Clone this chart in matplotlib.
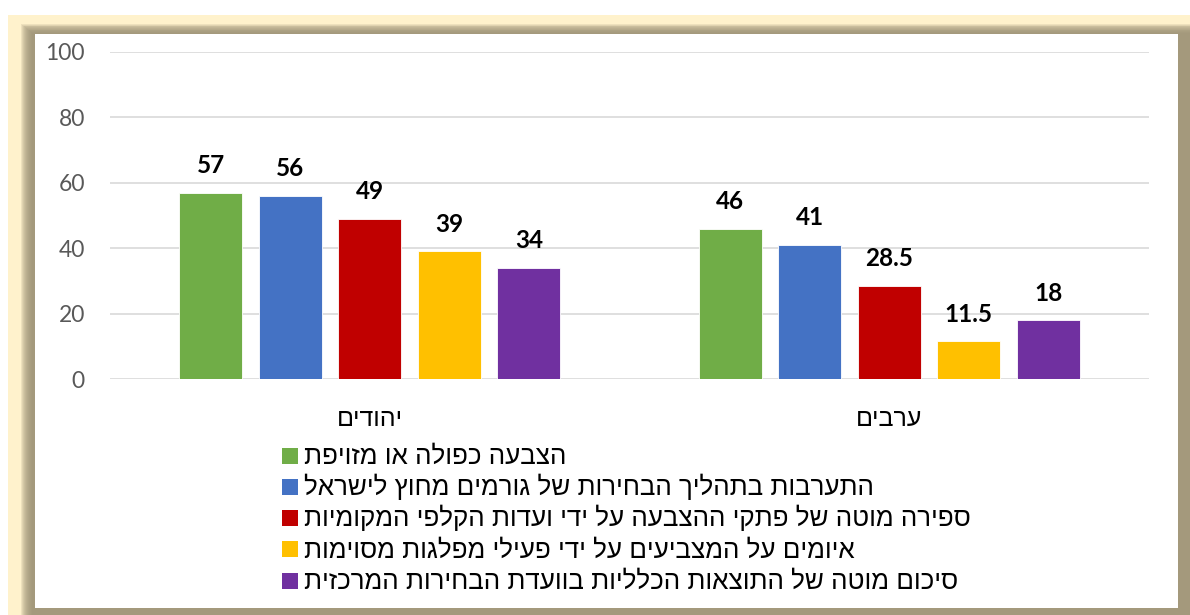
import matplotlib.pyplot as plt
from matplotlib.patches import Rectangle
import numpy as np

plt.rcParams['font.family'] = ['Liberation Sans', 'DejaVu Sans']

# DATA

groups = ['יהודים', 'ערבים']
series = [
    'הצבעה כפולה או מזויפת',
    'התערבות בתהליך הבחירות של גורמים מחוץ לישראל',
    'ספירה מוטה של פתקי ההצבעה על ידי ועדות הקלפי המקומיות',
    'איומים על המצביעים על ידי פעילי מפלגות מסוימות',
    'סיכום מוטה של התוצאות הכלליות בוועדת הבחירות המרכזית',
]
jews = [57, 56, 49, 39, 34]
arabs = [46, 41, 28.5, 11.5, 18]
labels_jews = ['57', '56', '49', '39', '34']
labels_arabs = ['46', '41', '28.5', '11.5', '18']
colors = ['#70AD47', '#4472C4', '#C00000', '#FFC000', '#7030A0']
yticks = [0, 20, 40, 60, 80, 100]


def heb(s):
    # matplotlib has no right-to-left support, so flip the string
    return s[::-1]


W, H = 1190, 615
fig = plt.figure(figsize=(W / 100, H / 100), dpi=100)


def box(x0, y0, x1, y1):
    # pixel box (top-left origin) -> figure fraction rectangle args
    return (x0 / W, 1 - y1 / H), (x1 - x0) / W, (y1 - y0) / H


# FRAME WITH INNER SHADOW

xy, w, h = box(8, 15, W, H)
fig.patches.append(Rectangle(xy, w, h, transform=fig.transFigure,
                             facecolor='#FFF2CC', edgecolor='none', zorder=-10))
for k in range(12):
    xy, w, h = box(21 + k, 24 + k * 0.8, W, H)
    fig.patches.append(Rectangle(xy, w, h, transform=fig.transFigure,
                                 facecolor='#9C9275', edgecolor='none',
                                 alpha=0.17, zorder=-9))
xy, w, h = box(35, 34, 1178, 608)
fig.patches.append(Rectangle(xy, w, h, transform=fig.transFigure,
                             facecolor='white', edgecolor='none', zorder=-8))

# AXES

ax = fig.add_axes([110 / W, 1 - 379 / H, (1149 - 110) / W, (379 - 52) / H])
ax.set_zorder(1)
ax.patch.set_alpha(0)

x = np.arange(len(groups))
step = 0.1532
width = 0.1213

for i, name in enumerate(series):
    vals = [jews[i], arabs[i]]
    txt = [labels_jews[i], labels_arabs[i]]
    pos = x + (i - 2) * step
    ax.bar(pos, vals, width, color=colors[i], edgecolor='white',
           linewidth=0.6, zorder=3)
    for px, v, t in zip(pos, vals, txt):
        ax.annotate(t, (px, v), xytext=(0, 14), textcoords='offset points',
                    ha='center', va='baseline', fontsize=17.5,
                    fontweight='bold', color='black', family='Lato')

ax.set_xlim(-0.5, 1.5)
ax.set_ylim(0, 100)
ax.set_yticks(yticks)
ax.set_yticklabels([str(t) for t in yticks], fontsize=16.5, color='#595959',
                   family='Lato')
ax.set_xticks(x)
ax.set_xticklabels([heb(g) for g in groups], fontsize=18, color='black')
ax.tick_params(axis='y', length=0, pad=18)
ax.tick_params(axis='x', length=0, pad=20)
ax.grid(axis='y', color='#D9D9D9', linewidth=1.2, zorder=0)
for sp in ax.spines.values():
    sp.set_visible(False)

# LEGEND (drawn by hand so rows are evenly spaced)

for i, name in enumerate(series):
    bottom = 463.5 + 31.3 * i
    xy, w, h = box(282, bottom - 16, 298, bottom)
    fig.patches.append(Rectangle(xy, w, h, transform=fig.transFigure,
                                 facecolor=colors[i], edgecolor='none',
                                 zorder=2))
    fig.text(304 / W, 1 - bottom / H, heb(name), fontsize=18.75,
             ha='left', va='baseline', color='black', zorder=2)

plt.savefig('out.png', dpi=100)
plt.close()
